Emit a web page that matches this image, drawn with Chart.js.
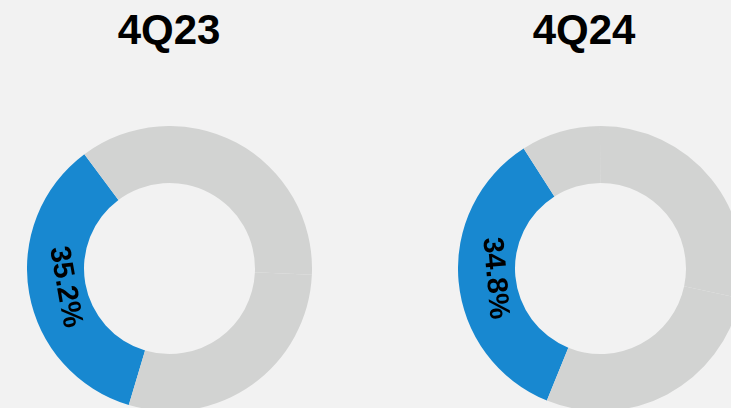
<!DOCTYPE html>
<html>
<head>
<meta charset="utf-8">
<script src="https://cdn.jsdelivr.net/npm/chart.js@4/dist/chart.umd.min.js"></script>
<style>
  html, body { margin: 0; padding: 0; background: #f2f2f2; overflow: hidden; }
  #wrap { position: relative; width: 731px; height: 408px; overflow: hidden; background: #f2f2f2; }
  .ttl { position: absolute; width: 240px; text-align: center; font-family: "Liberation Sans", Arial, sans-serif;
         font-weight: bold; font-size: 42px; line-height: 42px; color: #000; top: 9px; }
  canvas { position: absolute; }
</style>
</head>
<body>
<div id="wrap">
  <div class="ttl" id="t1" style="left:49px"></div>
  <div class="ttl" id="t2" style="left:464px"></div>
  <canvas id="c1" width="285" height="285" style="left:27px; top:126px; width:285px; height:285px"></canvas>
  <canvas id="c2" width="285" height="285" style="left:458px; top:126px; width:285px; height:285px"></canvas>
</div>
<script>
// ---- data ----
const periods = ["4Q23", "4Q24"];
const shares4Q23 = [35.2, 35.9, 28.9];       // highlighted share first, then remaining segments
const shares4Q24 = [34.8, 9.0, 28.4, 27.8];
const startAngles = [196.6, 202.1];          // rotation (degrees clockwise from top)

const BLUE = "#1888d0";
const GREY = "#d2d3d2";

document.getElementById("t1").textContent = periods[0];
document.getElementById("t2").textContent = periods[1];

const labelPlugin = {
  id: "arcLabel",
  afterDatasetsDraw(chart) {
    const meta = chart.getDatasetMeta(0);
    const arc = meta.data[0];
    const p = arc.getProps(["x", "y", "startAngle", "endAngle", "innerRadius", "outerRadius"], true);
    const mid = (p.startAngle + p.endAngle) / 2;
    const r = p.innerRadius + (p.outerRadius - p.innerRadius) * 0.36;
    const v = chart.data.datasets[0].data[0];
    const ctx = chart.ctx;
    ctx.save();
    ctx.translate(p.x + r * Math.cos(mid), p.y + r * Math.sin(mid));
    ctx.rotate(mid - Math.PI / 2);
    ctx.font = 'bold 29px "Liberation Sans", Arial, sans-serif';
    ctx.fillStyle = "#000";
    ctx.textAlign = "center";
    ctx.textBaseline = "middle";
    ctx.fillText(v.toFixed(1) + "%", 0, 0);
    ctx.restore();
  }
};

function makeChart(id, values, rot) {
  new Chart(document.getElementById(id), {
    type: "doughnut",
    data: {
      labels: values.map((_, i) => "s" + i),
      datasets: [{
        data: values,
        backgroundColor: values.map((_, i) => i === 0 ? BLUE : GREY),
        borderWidth: 0
      }]
    },
    options: {
      responsive: false,
      devicePixelRatio: 1,
      animation: false,
      cutout: "60%",
      rotation: rot,
      layout: { padding: 0 },
      plugins: { legend: { display: false }, tooltip: { enabled: false }, title: { display: false } }
    },
    plugins: [labelPlugin]
  });
}

makeChart("c1", shares4Q23, startAngles[0]);
makeChart("c2", shares4Q24, startAngles[1]);
</script>
</body>
</html>
